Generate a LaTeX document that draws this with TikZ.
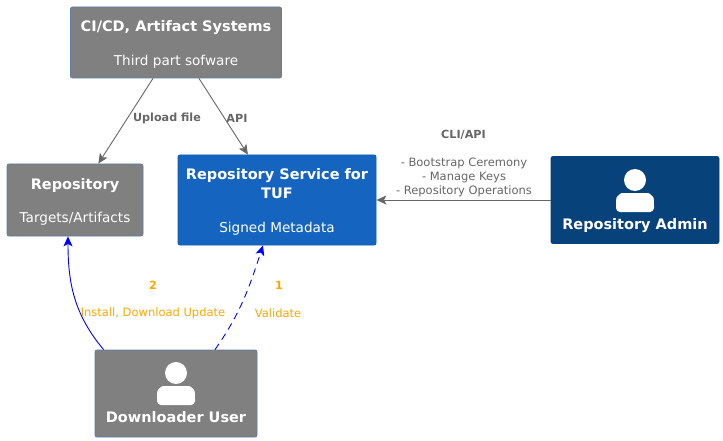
\documentclass[tikz,border=0pt]{standalone}
\usepackage{xcolor}
\usepackage{fontspec}
\setmainfont{DejaVu Sans}
\usepackage{tikz}
\usetikzlibrary{positioning,arrows.meta,calc}
\definecolor{extGrey}{RGB}{128, 128, 128}
\definecolor{extEdge}{RGB}{92, 125, 165}
\definecolor{svcBlue}{RGB}{21, 101, 192}
\definecolor{svcEdge}{RGB}{17, 90, 170}
\definecolor{adminBlue}{RGB}{8, 66, 123}
\definecolor{lineGrey}{RGB}{102, 102, 102}
\definecolor{stepOrange}{RGB}{255, 165, 0}
\tikzset{
    box/.style={draw=#1, fill=#1, rounded corners=2pt, text=white, align=center, inner sep=0pt, line width=0.8pt},
    greybox/.style={box=extEdge, fill=extGrey},
    title/.style={font=\fontsize{14.5}{19}\selectfont\bfseries, text=white, align=center},
    sub/.style={font=\fontsize{13.6}{16}\selectfont, text=white},
    rel/.style={draw=lineGrey, line width=0.9pt, -{Stealth[length=10pt,width=9pt,inset=2.5pt]}},
    dl/.style={draw=blue, line width=0.9pt, -{Stealth[length=10pt,width=9pt,inset=2.5pt]}},
    greytext/.style={font=\fontsize{11.5}{14.3}\selectfont, text=lineGrey, align=center},
    greybold/.style={font=\fontsize{11.2}{14}\selectfont\bfseries, text=lineGrey},
    steptext/.style={font=\fontsize{11.5}{14}\selectfont, text=stepOrange, align=center},
    stepbold/.style={font=\fontsize{11.2}{14}\selectfont\bfseries, text=stepOrange}
}
\newcommand{\personicon}[2]{
    \fill[white] (#1,#2) circle (11);
    \fill[white, rounded corners=4pt] (#1-19,#2+32) -- (#1-19,#2+22) to[out=85,in=180] (#1-9,#2+13) -- (#1+9,#2+13) to[out=0,in=95] (#1+19,#2+22) -- (#1+19,#2+32) -- cycle;
}
\begin{document}
\begin{tikzpicture}[x=1pt,y=-1pt]
    \useasboundingbox (0,0) rectangle (723,441);

    \node[greybox, minimum width=211pt, minimum height=71pt] (ci) at (176,42.5) {};
    \node[greybox, minimum width=136pt, minimum height=72pt] (repo) at (75,200) {};
    \node[box=svcEdge, fill=svcBlue, minimum width=198pt, minimum height=90pt] (svc) at (277,200) {};
    \node[box=adminBlue, minimum width=168pt, minimum height=87pt] (admin) at (635,200) {};
    \node[greybox, minimum width=162pt, minimum height=87pt] (down) at (176,393.5) {};

    \node[title] (ciTitle) at (176,27.5) {CI/CD, Artifact Systems};
    \node[sub] (ciSub) at (176,62) {Third part sofware};
    \node[title] (repoTitle) at (75,185.5) {Repository};
    \node[sub] (repoSub) at (75,219) {Targets/Artifacts};
    \node[title] (svcTitle) at (277,184) {Repository Service for\\TUF};
    \node[sub] (svcSub) at (277,229) {Signed Metadata};
    \node[title] (adminTitle) at (635,225.5) {Repository Admin};
    \node[title] (downTitle) at (176,417) {Downloader User};

    \personicon{635}{180}
    \personicon{176}{373}

    \draw[rel] (ci) -- (repo);
    \draw[rel] (ci) -- (svc);
    \draw[rel] (admin) -- (svc);
    \draw[dl] ([xshift=9pt]down.north west) to[out=130,in=-90] ([xshift=-7pt]repo.south);
    \draw[dl, dash pattern=on 7pt off 5pt] ([xshift=39pt]down.north) to[out=55,in=-108] ([xshift=-14pt]svc.south);

    \node[greybold] (uploadLabel) at (167,118) {Upload file};
    \node[greybold] (apiLabel) at (237,118) {API};
    \node[greybold] (cliLabel) at (463.5,134.5) {CLI/API};
    \node[greytext] (opsLabel) at (464,177.5) {- Bootstrap Ceremony\\- Manage Keys\\- Repository Operations};
    \node[stepbold] (twoNum) at (153,285) {2};
    \node[steptext] (twoLabel) at (153,313) {Install, Download Update};
    \node[stepbold] (oneNum) at (279,285) {1};
    \node[steptext] (oneLabel) at (278,313) {Validate};
\end{tikzpicture}
\end{document}
